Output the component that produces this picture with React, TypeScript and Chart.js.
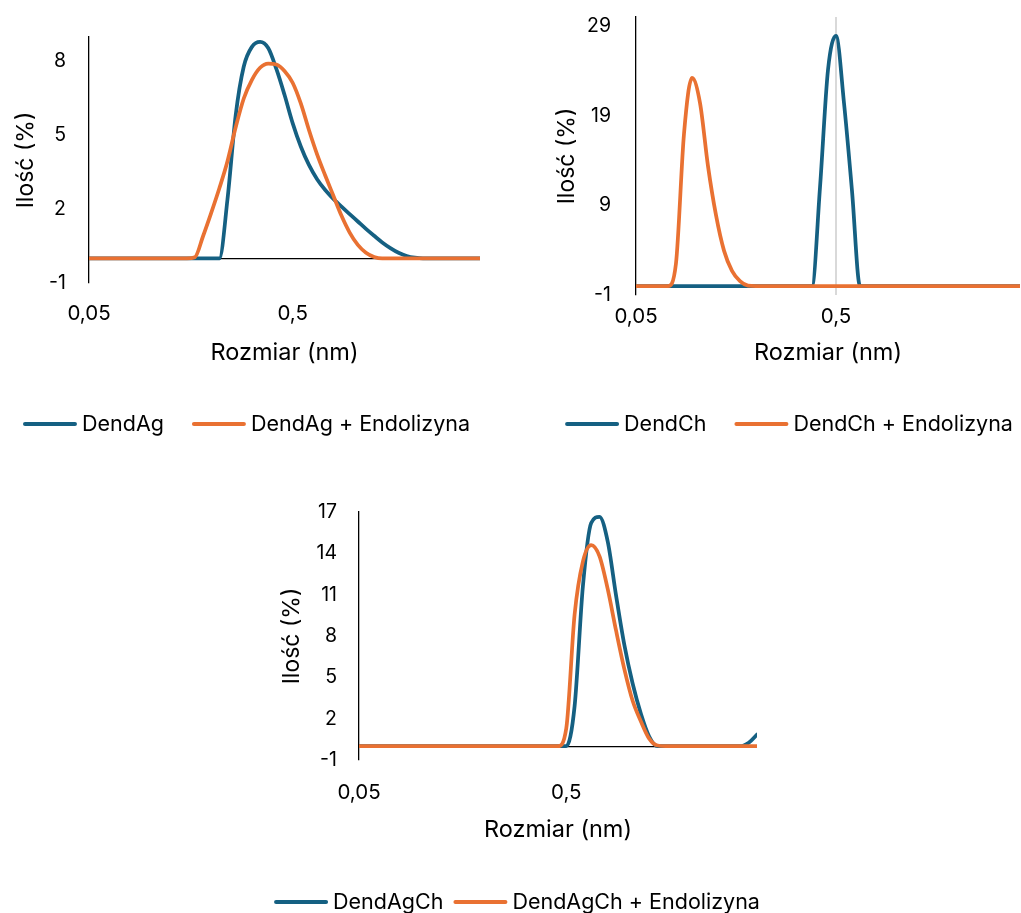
import React, { useEffect, useRef } from "react";
import { Chart, registerables } from "chart.js";

Chart.register(...registerables);

// ---------- DATA ----------
const sizes = [
  0.05, 0.0548, 0.0601, 0.0659, 0.0723, 0.0792, 0.0869, 0.0953, 0.1045, 0.1145,
  0.1256, 0.1377, 0.151, 0.1656, 0.1815, 0.1991, 0.2183, 0.2393, 0.2624, 0.2877,
  0.3155, 0.3459, 0.3793, 0.4159, 0.456, 0.5, 0.5483, 0.6012, 0.6592, 0.7227,
  0.7924, 0.8689, 0.9528, 1.0447, 1.1455, 1.2559, 1.3771, 1.51, 1.6557, 1.8154,
  1.9905, 2.1826, 2.3932, 2.6241, 2.8772, 3.1548, 3.4592, 3.7929, 4.1588,
];

const dendAg = [
  0, 0, 0, 0, 0, 0, 0, 0, 0, 0,
  0, 0, 0, 0, 0, 0, 0, 2.4, 5.8, 7.8,
  8.6, 8.8, 8.55, 7.7, 6.65, 5.5, 4.55, 3.8, 3.22, 2.78,
  2.42, 2.1, 1.8, 1.5, 1.2, 0.92, 0.65, 0.42, 0.23, 0.1,
  0.03, 0, 0, 0, 0, 0, 0, 0, 0,
];
const dendAgEndo = [
  0, 0, 0, 0, 0, 0, 0, 0, 0, 0,
  0, 0, 0, 0.05, 0.9, 1.85, 2.85, 3.95, 5.32, 6.5,
  7.26, 7.75, 7.92, 7.88, 7.62, 7.14, 6.3, 5.22, 4.23, 3.37,
  2.55, 1.73, 1.05, 0.55, 0.23, 0.06, 0, 0, 0, 0,
  0, 0, 0, 0, 0, 0, 0, 0, 0,
];
const dendCh = [
  0, 0, 0, 0, 0, 0, 0, 0, 0, 0,
  0, 0, 0, 0, 0, 0, 0, 0, 0, 0,
  0, 0, 0, 11, 24.1, 27.9, 20.4, 10.6, 0, 0,
  0, 0, 0, 0, 0, 0, 0, 0, 0, 0,
  0, 0, 0, 0, 0, 0, 0, 0, 0,
];
const dendChEndo = [
  0, 0, 0, 0, 0, 2.5, 17, 23.2, 20.4, 13.4,
  7.9, 3.95, 1.7, 0.55, 0.05, 0, 0, 0, 0, 0,
  0, 0, 0, 0, 0, 0, 0, 0, 0, 0,
  0, 0, 0, 0, 0, 0, 0, 0, 0, 0,
  0, 0, 0, 0, 0, 0, 0, 0, 0,
];
const dendAgCh = [
  0, 0, 0, 0, 0, 0, 0, 0, 0, 0,
  0, 0, 0, 0, 0, 0, 0, 0, 0, 0,
  0, 0, 0, 0, 0, 0, 2.9, 11.6, 16.2, 16.65,
  14.85, 10.95, 7.35, 4.55, 2.35, 0.7, 0, 0, 0, 0,
  0, 0, 0, 0, 0, 0, 0, 0.25, 0.85,
];
const dendAgChEndo = [
  0, 0, 0, 0, 0, 0, 0, 0, 0, 0,
  0, 0, 0, 0, 0, 0, 0, 0, 0, 0,
  0, 0, 0, 0, 0, 1.3, 9.55, 13.4, 14.6, 13.8,
  11.4, 8.4, 5.6, 3.3, 1.8, 0.55, 0.05, 0, 0, 0,
  0, 0, 0, 0, 0, 0, 0, 0, 0,
];

const xTickValues = [0.05, 0.5];
const yTicksA = [-1, 2, 5, 8];
const yTicksB = [-1, 9, 19, 29];
const yTicksC = [-1, 2, 5, 8, 11, 14, 17];

const labelsA = ["DendAg", "DendAg + Endolizyna"];
const labelsB = ["DendCh", "DendCh + Endolizyna"];
const labelsC = ["DendAgCh", "DendAgCh + Endolizyna"];

const xTitle = "Rozmiar (nm)";
const yTitle = "Ilość (%)";

// ---------- STYLE ----------
const BLUE = "#156082";
const ORANGE = "#E97132";
const FONT = "Inter, 'Noto Sans', sans-serif";

const panels = [
  {
    key: "a", left: 0, top: 0, width: 500, height: 450,
    padTop: 37, padRight: 20, yWidth: 89, xHeight: 167,
    yMin: -1, yMax: 9, yTicks: yTicksA, series: [dendAg, dendAgEndo], labels: labelsA,
    xTickPad: 19, xTitlePad: 83, yTickPad: 23, yTitlePad: 12,
    legendY: 424, legendCenter: 246.5, legendGap: 28, grid05: false,
  },
  {
    key: "b", left: 540, top: 0, width: 481, height: 450,
    padTop: 17, padRight: 1, yWidth: 96, xHeight: 155,
    yMin: -1, yMax: 30, yTicks: yTicksB, series: [dendCh, dendChEndo], labels: labelsB,
    xTickPad: 10, xTitlePad: 83, yTickPad: 25, yTitlePad: 13,
    legendY: 424, legendCenter: 249, legendGap: 28, grid05: true,
  },
  {
    key: "c", left: 270, top: 470, width: 500, height: 443,
    padTop: 42, padRight: 13, yWidth: 89, xHeight: 153,
    yMin: -1, yMax: 17, yTicks: yTicksC, series: [dendAgCh, dendAgChEndo], labels: labelsC,
    xTickPad: 21, xTitlePad: 69, yTickPad: 22, yTitlePad: 8,
    legendY: 432, legendCenter: 247, legendGap: 10, grid05: false,
  },
];

const lineLegend = {
  id: "lineLegend",
  afterDraw(chart: any, _args: any, opts: any) {
    const ctx = chart.ctx as CanvasRenderingContext2D;
    const items = chart.data.datasets.map((ds: any) => ({ text: ds.label, color: ds.borderColor }));
    ctx.save();
    ctx.font = `${opts.fontSize}px ${FONT}`;
    const lineLen = 54;
    const gapText = 5;
    const gapItem = opts.gap;
    const widths = items.map((it: any) => lineLen + gapText + ctx.measureText(it.text).width);
    const total = widths.reduce((a: number, b: number) => a + b, 0) + gapItem * (items.length - 1);
    let x = opts.centerX - total / 2;
    items.forEach((it: any, i: number) => {
      ctx.strokeStyle = it.color;
      ctx.lineWidth = 4;
      ctx.lineCap = "round";
      ctx.beginPath();
      ctx.moveTo(x + 2, opts.y);
      ctx.lineTo(x + lineLen - 2, opts.y);
      ctx.stroke();
      ctx.fillStyle = "#000";
      ctx.textBaseline = "middle";
      ctx.textAlign = "left";
      ctx.fillText(it.text, x + lineLen + gapText, opts.y + 1);
      x += widths[i] + gapItem;
    });
    ctx.restore();
  },
};

function Panel({ cfg }: { cfg: any }) {
  const ref = useRef<HTMLCanvasElement>(null);
  useEffect(() => {
    const colors = [BLUE, ORANGE];
    const chart = new Chart(ref.current as HTMLCanvasElement, {
      type: "line",
      data: {
        datasets: cfg.series.map((vals: number[], si: number) => ({
          label: cfg.labels[si],
          data: sizes.map((s, i) => ({ x: s, y: vals[i] })),
          borderColor: colors[si],
          backgroundColor: colors[si],
          borderWidth: 3.75,
          pointRadius: 0,
          cubicInterpolationMode: "monotone",
          fill: false,
          borderCapStyle: "round",
          borderJoinStyle: "round",
          order: si === 0 ? 1 : 0,
        })),
      },
      plugins: [lineLegend],
      options: {
        animation: false,
        responsive: false,
        devicePixelRatio: 1,
        events: [],
        layout: { padding: { left: 0, top: cfg.padTop, right: cfg.padRight, bottom: 0 } },
        plugins: {
          legend: { display: false },
          tooltip: { enabled: false },
          lineLegend: { y: cfg.legendY, centerX: cfg.legendCenter, fontSize: 21.5, gap: cfg.legendGap },
        } as any,
        scales: {
          x: {
            type: "logarithmic",
            min: sizes[0],
            max: sizes[sizes.length - 1],
            afterBuildTicks: (s: any) => {
              s.ticks = xTickValues.map((v) => ({ value: v }));
            },
            afterFit: (s: any) => {
              s.height = cfg.xHeight;
              s.paddingLeft = 0;
              s.paddingRight = 0;
            },
            ticks: {
              autoSkip: false,
              maxRotation: 0,
              color: "#000",
              padding: cfg.xTickPad,
              font: { family: FONT, size: 20.5 },
              callback: (v: any) => String(v).replace(".", ","),
            },
            grid: {
              display: cfg.grid05,
              drawTicks: false,
              lineWidth: 2,
              color: (c: any) => (c.tick && c.tick.value === 0.5 ? "#d9d9d9" : "rgba(0,0,0,0)"),
            },
            border: { display: false },
            title: {
              display: true,
              text: xTitle,
              color: "#000",
              font: { family: FONT, size: 23.5 },
              padding: { top: 0, bottom: cfg.xTitlePad },
            },
          },
          y: {
            type: "linear",
            min: cfg.yMin,
            max: cfg.yMax,
            afterBuildTicks: (s: any) => {
              s.ticks = [...cfg.yTicks, 0].sort((a: number, b: number) => a - b).map((v: number) => ({ value: v }));
            },
            afterFit: (s: any) => {
              s.width = cfg.yWidth;
              s.paddingTop = 0;
              s.paddingBottom = 0;
            },
            ticks: {
              color: "#000",
              padding: cfg.yTickPad,
              font: { family: FONT, size: 19.5 },
              callback: (v: any) => (v === 0 ? "" : String(v)),
            },
            grid: {
              drawTicks: false,
              lineWidth: 1.2,
              color: (c: any) => (c.tick && c.tick.value === 0 ? "#000" : "rgba(0,0,0,0)"),
            },
            border: { display: true, color: "#000", width: 1.3 },
            title: {
              display: true,
              text: yTitle,
              color: "#000",
              font: { family: FONT, size: 23 },
              padding: { top: cfg.yTitlePad, bottom: 0 },
            },
          },
        },
      } as any,
    });
    return () => chart.destroy();
  }, []);
  return (
    <canvas
      ref={ref}
      width={cfg.width}
      height={cfg.height}
      style={{ position: "absolute", left: cfg.left, top: cfg.top, width: cfg.width, height: cfg.height }}
    />
  );
}

export default function App() {
  return (
    <div style={{ position: "absolute", left: 0, top: 0, width: 1021, height: 913, background: "#fff" }}>
      {panels.map((p) => (
        <Panel key={p.key} cfg={p} />
      ))}
    </div>
  );
}
